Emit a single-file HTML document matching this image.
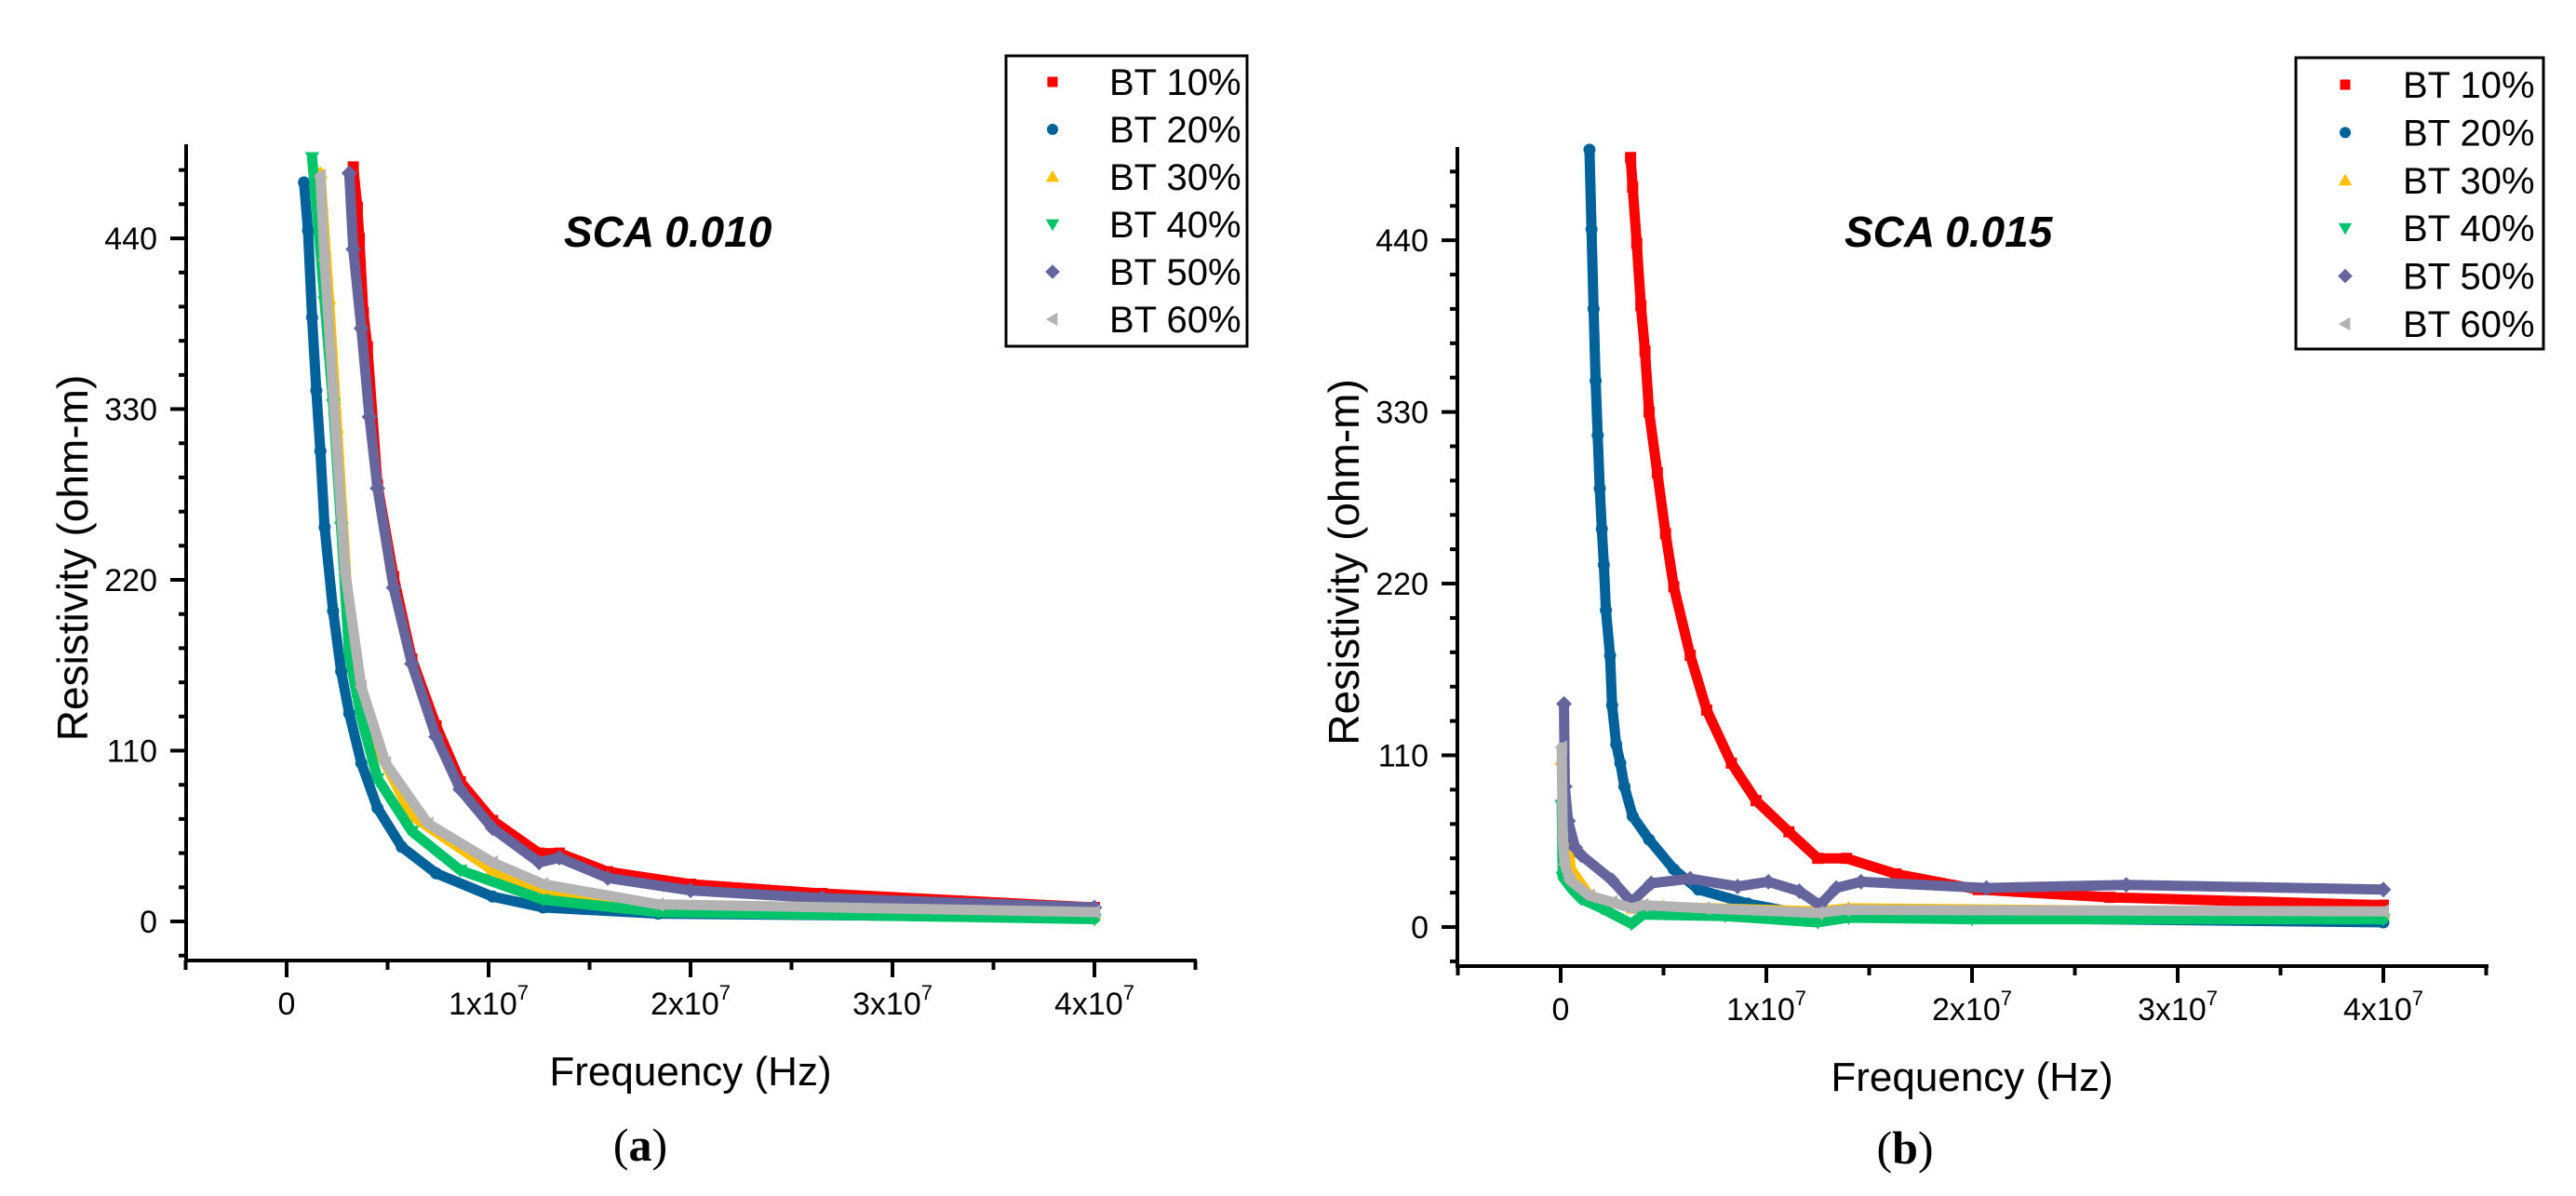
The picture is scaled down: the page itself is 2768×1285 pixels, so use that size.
<!DOCTYPE html>
<html><head><meta charset="utf-8"><style>
html,body{margin:0;padding:0;background:#fff;}
svg{display:block;font-family:"Liberation Sans",Arial,sans-serif;}
</style></head><body>
<svg id="fig" width="2768" height="1285" viewBox="0 0 2768 1285" xmlns="http://www.w3.org/2000/svg"></svg>
<script>
// ---- data (x in units of 1e6 Hz, y in ohm-m) ----
const seriesNames = ["BT 10%","BT 20%","BT 30%","BT 40%","BT 50%","BT 60%"];
const yTicks = [0,110,220,330,440];
const xTicks = [0,1,2,3,4];
const xTickLabels = ["0","1x10","2x10","3x10","4x10"];

// panel (a) SCA 0.010
const a10x=[3.3,3.5,3.6,3.8,4.0,4.5,5.3,6.2,7.4,8.6,10.2,12.5,13.5,15.9,20,26.5,40];
const a10y=[486,460,440,392,370,281,222,169,126,90,65,44,44,32,24,18,9];
const a20x=[0.86,1.06,1.26,1.47,1.67,1.88,2.3,2.7,3.1,3.7,4.5,5.7,7.4,10.2,12.7,18.4,40];
const a20y=[476,445,389,342,303,254,200,161,134,102,73,48,31,16,9,5,2.5];
const a30x=[1.67,2.1,2.5,3.1,4.1,6.2,10.2,12.7,18.4,40];
const a30y=[482,401,318,190,122,68,33,18,9,5];
const a40x=[1.26,1.47,1.88,2.3,2.7,3.1,3.7,4.5,6.2,8.6,12.7,18.4,40];
const a40y=[492,462,399,333,254,171,131,92,58,33,14,6,1.5];
const a50x=[3.1,3.3,3.7,4.1,4.5,5.3,6.2,7.4,8.6,10.2,12.5,13.5,15.9,20,26.5,40];
const a50y=[482,433,382,325,279,215,166,119,85,60,38,41,28,20,15,9];
const a60x=[1.67,1.88,2.3,2.9,3.7,4.9,7,10.2,12.7,18.4,40];
const a60y=[480,426,342,225,151,102,63,38,24,11,6];

// panel (b) SCA 0.015
const b10x=[3.4,3.5,3.7,3.9,4.1,4.3,4.7,5.1,5.5,6.3,7.1,8.3,9.5,11.1,12.5,13.9,16.3,20.3,26.7,40];
const b10y=[493,474,438,398,369,330,291,252,218,174,139,105,81,61,44,44,34,24,19,14];
const b20x=[1.4,1.5,1.6,1.7,1.8,1.9,2.0,2.1,2.2,2.4,2.5,2.7,2.9,3.1,3.5,4.3,5.5,6.7,9.1,12.3,14.7,18.7,40];
const b20y=[498,447,396,350,315,281,255,232,203,174,142,117,105,90,71,56,37,24,15,7,7,6,3];
const b30x=[0.05,0.2,0.4,0.5,1.4,3.5,5,12.5,14,40];
const b30y=[107,60,48,37,20,12,13,10,12,9];
const b40x=[0.05,0.1,0.5,1.0,2.0,3.45,4.0,8,12.5,14,20,40];
const b40y=[78,32,25,18,12,2,8,7,3,6,5,5];
const b50x=[0.16,0.2,0.36,0.7,1.0,2.5,3.45,4.4,6.3,8.6,10.1,11.6,12.6,13.4,14.6,20.7,27.5,40];
const b50y=[143,90,68,51,46,30,16,28,31,26,29,23,14,25,29,25,27,24];
const b60x=[0.05,0.1,0.2,0.45,1.4,2.5,3.45,4.0,7.0,12.5,13.8,40];
const b60y=[115,57,40,30,20,16,12,14,12,9,11,10];

const colors=["#ff0000","#00629b","#ffc000","#00c46a","#65649c","#b3b3b3"];
const shapes=["square","circle","up","down","diamond","left"];

const NS="http://www.w3.org/2000/svg";
const svg=document.getElementById("fig");
function el(tag,attrs,parent,text){const e=document.createElementNS(NS,tag);for(const k in attrs)e.setAttribute(k,attrs[k]);if(text!==undefined)e.textContent=text;(parent||svg).appendChild(e);return e;}

function marker(g,shape,cx,cy,color,s){
  let m;
  if(shape==="square") m=el("rect",{x:cx-s*0.46,y:cy-s*0.46,width:s*0.92,height:s*0.92,fill:color},g);
  else if(shape==="circle") m=el("circle",{cx:cx,cy:cy,r:s*0.5,fill:color},g);
  else if(shape==="up") m=el("polygon",{points:`${cx-s*0.6},${cy+s*0.45} ${cx+s*0.6},${cy+s*0.45} ${cx},${cy-s*0.6}`,fill:color},g);
  else if(shape==="down") m=el("polygon",{points:`${cx-s*0.6},${cy-s*0.45} ${cx+s*0.6},${cy-s*0.45} ${cx},${cy+s*0.6}`,fill:color},g);
  else if(shape==="diamond") m=el("polygon",{points:`${cx},${cy-s*0.65} ${cx+s*0.65},${cy} ${cx},${cy+s*0.65} ${cx-s*0.65},${cy}`,fill:color},g);
  else m=el("polygon",{points:`${cx+s*0.45},${cy-s*0.6} ${cx+s*0.45},${cy+s*0.6} ${cx-s*0.6},${cy}`,fill:color},g);
  return m;
}

function panel(p){
  const X=v=>p.x0+p.xs*v, Y=v=>p.y0-p.ys*v;
  const g=el("g",{});
  
  
  // series
  p.data.forEach((d,i)=>{
    const sg=el("g",{},g);
    
    
    const pts=d[0].map((xv,k)=>X(xv)+","+Y(d[1][k])).join(" ");
    const pl=el("polyline",{points:pts,fill:"none",stroke:colors[i],"stroke-width":11,"stroke-linejoin":"round","stroke-linecap":"round"},sg);
    
    
    d[0].forEach((xv,k)=>{
      const m=marker(sg,shapes[i],X(xv),Y(d[1][k]),colors[i],13);
      
      
    });
  });
  // axes
  const ax=el("g",{stroke:"#000","stroke-width":4,fill:"none"},g);
  
  
  el("line",{x1:p.ax,y1:p.top,x2:p.ax,y2:p.ay+2},ax);
  el("line",{x1:p.ax-2,y1:p.ay,x2:p.right+2,y2:p.ay},ax);
  for(let v=-22;v<=484;v+=22){
    const major=yTicks.indexOf(v)>=0;
    el("line",{x1:p.ax-(major?17:8),y1:Y(v),x2:p.ax,y2:Y(v)},ax);
  }
  for(let v=-0.5;v<=4.51;v+=0.5){
    const major=Math.abs(v-Math.round(v))<1e-6 && v>=0 && v<=4;
    el("line",{x1:X(v*10),y1:p.ay,x2:X(v*10),y2:p.ay+(major?18:10)},ax);
  }
  yTicks.forEach(v=>{
    const t=el("text",{x:p.ax-31,y:Y(v)+12,"text-anchor":"end","font-size":34,fill:"#000"},g,String(v));
    
    
  });
  xTicks.forEach((v,i)=>{
    const t=el("text",{x:X(v*10),y:p.ay+58,"text-anchor":"middle","font-size":34,fill:"#000"},g);
    
    
    if(v===0){t.textContent="0";}
    else{
      const a=el("tspan",{},t,xTickLabels[i]);
      const b=el("tspan",{dy:-16,"font-size":22},t,"7");
    }
  });
  const xl=el("text",{x:(p.ax+p.right)/2,y:p.ay+134,"text-anchor":"middle","font-size":44,fill:"#000"},g,"Frequency (Hz)");
  
  
  const yl=el("text",{x:0,y:0,"text-anchor":"middle","font-size":46,fill:"#000",transform:`translate(${p.ax-106},${(p.top+p.ay)/2+6}) rotate(-90)`},g,"Resistivity (ohm-m)");
  
  
  const tt=el("text",{x:p.tx,y:265,"font-size":46,"font-weight":"bold","font-style":"italic",fill:"#000"},g,p.title);
  
  
  const pl=el("text",{x:p.lx,y:p.ly,"text-anchor":"middle","font-size":50,"font-family":"Liberation Serif, serif",fill:"#000"},g);
  
  
  el("tspan",{},pl,"(");el("tspan",{"font-weight":"bold"},pl,p.letter);el("tspan",{},pl,")");
  // legend
  const lg=el("g",{},g);
  
  
  el("rect",{x:p.lb[0],y:p.lb[1],width:p.lb[2],height:p.lb[3],fill:"#fff",stroke:"#000","stroke-width":3},lg);
  seriesNames.forEach((n,i)=>{
    const cy=p.lr0+i*p.lrs;
    const e=el("g",{},lg);
    
    
    marker(e,shapes[i],p.lmx,cy,colors[i],12);
    el("text",{x:p.ltx,y:cy+14,"font-size":40,fill:"#000"},e,n);
  });
}

panel({name:"chart-a",x0:308,xs:21.7,y0:990,ys:1.668,ax:200,ay:1032,top:155,right:1284,
  data:[[a10x,a10y],[a20x,a20y],[a30x,a30y],[a40x,a40y],[a50x,a50y],[a60x,a60y]],
  title:"SCA 0.010",tx:606,lx:688,ly:1247,letter:"a",
  lb:[1081,60,259,312],lr0:88,lrs:51,lmx:1131,ltx:1192});
panel({name:"chart-b",x0:1677,xs:22.1,y0:996,ys:1.677,ax:1566,ay:1038,top:158,right:2672,
  data:[[b10x,b10y],[b20x,b20y],[b30x,b30y],[b40x,b40y],[b50x,b50y],[b60x,b60y]],
  title:"SCA 0.015",tx:1982,lx:2047,ly:1250,letter:"b",
  lb:[2467,62,266,313],lr0:91,lrs:51.4,lmx:2520,ltx:2582});
</script>
</body></html>
